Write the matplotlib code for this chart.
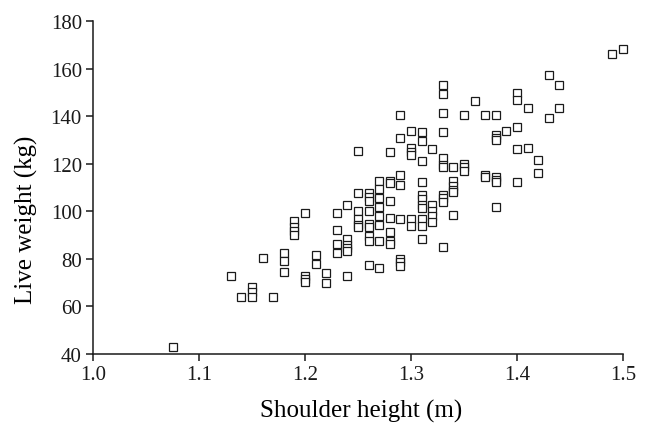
import numpy as np
import matplotlib

matplotlib.use("Agg")
from matplotlib import pyplot as plt

# shoulder height columns (m) and the live weights (kg) read at each one
heights = [1.075, 1.13, 1.14, 1.15, 1.16, 1.17, 1.18, 1.19, 1.20, 1.21, 1.22,
           1.23, 1.24, 1.25, 1.26, 1.27, 1.28, 1.29, 1.30, 1.31, 1.32, 1.33,
           1.34, 1.35, 1.36, 1.37, 1.38, 1.39, 1.40, 1.41, 1.42, 1.43, 1.44,
           1.49, 1.50]
weights = [
    [43],
    [73],
    [64],
    [68, 66, 64],
    [80.5],
    [64],
    [82.3, 79.3, 74.3],
    [95.7, 93.2, 91.8, 90.1],
    [99.4, 72.8, 71.5, 70.4],
    [81.7, 77.8],
    [74, 69.8],
    [99.4, 92.2, 86.3, 82.3],
    [102.8, 88.3, 85.7, 84.4, 83.1, 72.6],
    [125.2, 107.7, 100, 96.6, 94.4, 93.3],
    [107.8, 105.8, 104.4, 100, 94.6, 93.2, 89.4, 87.5, 77.4],
    [112.6, 109.4, 105.4, 101.6, 98.1, 94.3, 87.6, 76.1],
    [125, 112.6, 111.9, 104.3, 97, 91.1, 87.6, 86.2],
    [140.5, 130.8, 115.1, 111.1, 96.7, 79.9, 78.5, 77.1],
    [133.8, 126.6, 125, 123.8, 96.7, 93.7],
    [133.5, 129.4, 121, 112.5, 107, 105, 102.7, 101.3, 96.7, 94, 88.2],
    [126.2, 102.5, 100, 98, 95.3],
    [153.2, 149.5, 141.3, 133.5, 122.5, 119.6, 118.4, 107, 105.5, 104, 85],
    [118.7, 112.6, 110.5, 109, 108, 98.6],
    [140.5, 119.8, 118.4, 117],
    [146.3],
    [140.4, 115.4, 114.6],
    [140.4, 132.2, 131, 129.8, 114.4, 113.2, 112.3, 101.6],
    [133.8],
    [149.9, 146.7, 135.6, 126.1, 112.1],
    [143.5, 126.4],
    [121.5, 116.2],
    [157.4, 139.2],
    [153, 143.5],
    [166],
    [168.4],
]

x_ticks = [1.0, 1.1, 1.2, 1.3, 1.4, 1.5]
y_ticks = [40, 60, 80, 100, 120, 140, 160, 180]

x = np.repeat(heights, [len(w) for w in weights])
y = np.concatenate([np.asarray(w, dtype=float) for w in weights])

plt.rcParams["font.family"] = ["Liberation Serif", "DejaVu Serif"]

fig = plt.figure(figsize=(6.46, 4.27), dpi=100)
ax = fig.add_axes([0.144, 0.1686, 0.8204, 0.78])

ax.plot(x, y, linestyle="none", marker="s", markersize=5.8, clip_on=False,
        markerfacecolor="white", markeredgecolor="#1a1a1a", markeredgewidth=0.9)

ax.set_xlim(1.0, 1.5)
ax.set_ylim(40, 180)
ax.set_xticks(x_ticks)
ax.set_xticklabels([f"{t:.1f}" for t in x_ticks])
ax.set_yticks(y_ticks)

for side in ("top", "right"):
    ax.spines[side].set_visible(False)
for side in ("left", "bottom"):
    ax.spines[side].set_linewidth(1.1)
    ax.spines[side].set_color("#1a1a1a")

ax.tick_params(axis="both", direction="out", length=5, width=1.1,
               labelsize=15, colors="#1a1a1a", pad=3)

ax.set_xlabel("Shoulder height (m)", fontsize=18)
ax.set_ylabel("Live weight (kg)", fontsize=18)
ax.xaxis.set_label_coords(0.506, -0.135)
ax.yaxis.set_label_coords(-0.104, 0.405)

fig.savefig("out.png", dpi=100)
plt.close(fig)
